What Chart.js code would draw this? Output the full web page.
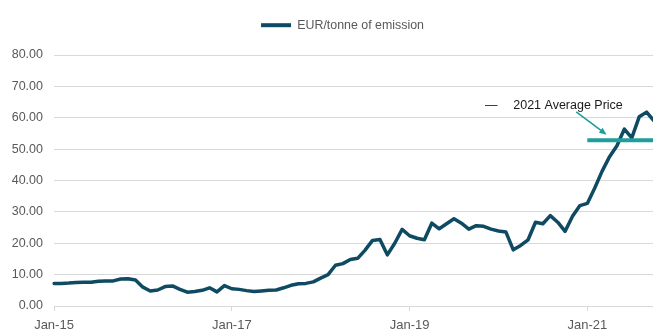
<!DOCTYPE html>
<html>
<head>
<meta charset="utf-8">
<script src="https://cdn.jsdelivr.net/npm/chart.js@4/dist/chart.umd.min.js"></script>
<style>
  html, body { margin: 0; padding: 0; background: #fff; overflow: hidden; }
  #wrap { width: 661px; height: 332px; }
</style>
</head>
<body>
<div id="wrap"><canvas id="priceChart"></canvas></div>
<script>
// monthly labels Jan-15 .. Oct-21
const monthNames = ['Jan','Feb','Mar','Apr','May','Jun','Jul','Aug','Sep','Oct','Nov','Dec'];
const years = ['15','16','17','18','19','20','21'];
const months = [];
years.forEach(y => monthNames.forEach(m => months.push(m + '-' + y)));
months.length = 82;

// EUR/tonne
const price2015 = [7.2, 7.2, 7.3, 7.5, 7.6, 7.6, 7.9, 8.0, 8.0, 8.6, 8.7, 8.3];
const price2016 = [6.0, 4.8, 5.1, 6.2, 6.4, 5.3, 4.4, 4.6, 5.0, 5.8, 4.5, 6.5];
const price2017 = [5.5, 5.3, 4.9, 4.6, 4.8, 5.0, 5.1, 5.8, 6.6, 7.1, 7.2, 7.7];
const price2018 = [8.9, 10.0, 13.0, 13.5, 14.8, 15.2, 17.8, 20.9, 21.2, 16.3, 20.0, 24.4];
const price2019 = [22.4, 21.6, 21.1, 26.4, 24.6, 26.2, 27.8, 26.4, 24.5, 25.6, 25.4, 24.5];
const price2020 = [23.9, 23.6, 17.9, 19.3, 21.1, 26.7, 26.2, 28.8, 26.7, 23.8, 28.6, 32.0];
const price2021 = [32.7, 37.6, 43.0, 47.6, 51.1, 56.4, 53.6, 60.3, 61.8, 59.0];
const prices = [].concat(price2015, price2016, price2017, price2018, price2019, price2020, price2021);

const avgPrice2021 = 52.8;
const avgStartIndex = 72; // Jan-21
const avgLine = months.map((m, i) => i >= avgStartIndex ? avgPrice2021 : null);

const yTicks = [0, 10, 20, 30, 40, 50, 60, 70, 80];

const darkBlue = '#0e4a62';
const teal = '#1f9e9b';
const grey = '#595959';
const font = "'Liberation Sans', Arial, sans-serif";

// annotation text + arrow, placed in data units
const note = { text: '2021 Average Price', dashIndex: 58.2, textIndex: 62.0, value: 64.0 };
const arrow = { fromIndex: 70.5, fromValue: 61.9, toIndex: 74.6, toValue: 54.6 };

const notePlugin = {
    id: 'note',
    beforeLayout(chart) {
        // push the plot area down below the legend
        const legend = chart.legend;
        if (legend && !legend._patched) {
            const fit = legend.fit;
            legend.fit = function () {
                fit.call(this);
                this.height = 46;
            };
            legend._patched = true;
        }
    },
    afterLayout(chart) {
        // legend sits a little right of the canvas centre
        if (chart.legend) chart.legend.left += 24;
    },
    afterDatasetsDraw(chart) {
        const ctx = chart.ctx;
        const x = chart.scales.x, y = chart.scales.y;
        ctx.save();
        ctx.fillStyle = '#1a1a1a';
        ctx.font = '12.5px ' + font;
        ctx.textBaseline = 'middle';
        ctx.textAlign = 'left';
        ctx.fillText('\u2014', x.getPixelForValue(note.dashIndex), y.getPixelForValue(note.value));
        ctx.fillText(note.text, x.getPixelForValue(note.textIndex), y.getPixelForValue(note.value));

        const x1 = x.getPixelForValue(arrow.fromIndex), y1 = y.getPixelForValue(arrow.fromValue);
        const x2 = x.getPixelForValue(arrow.toIndex), y2 = y.getPixelForValue(arrow.toValue);
        const ang = Math.atan2(y2 - y1, x2 - x1);
        ctx.strokeStyle = teal;
        ctx.fillStyle = teal;
        ctx.lineWidth = 1.6;
        ctx.beginPath();
        ctx.moveTo(x1, y1);
        ctx.lineTo(x2 - 5 * Math.cos(ang), y2 - 5 * Math.sin(ang));
        ctx.stroke();
        ctx.beginPath();
        ctx.moveTo(x2, y2);
        ctx.lineTo(x2 - 8 * Math.cos(ang - 0.4), y2 - 8 * Math.sin(ang - 0.4));
        ctx.lineTo(x2 - 8 * Math.cos(ang + 0.4), y2 - 8 * Math.sin(ang + 0.4));
        ctx.closePath();
        ctx.fill();
        ctx.restore();
    }
};

new Chart(document.getElementById('priceChart'), {
    type: 'line',
    data: {
        labels: months,
        datasets: [{
            label: 'EUR/tonne of emission',
            data: prices,
            borderColor: darkBlue,
            backgroundColor: darkBlue,
            borderWidth: 3.5,
            pointRadius: 0,
            tension: 0,
            borderJoinStyle: 'round',
            borderCapStyle: 'round',
            order: 2
        }, {
            label: '2021 Average Price',
            data: avgLine,
            borderColor: teal,
            backgroundColor: teal,
            borderWidth: 4,
            pointRadius: 0,
            spanGaps: false,
            order: 1
        }]
    },
    options: {
        responsive: true,
        maintainAspectRatio: false,
        animation: false,
        layout: { padding: { top: 9, left: 0, right: 0, bottom: 0 } },
        plugins: {
            legend: {
                position: 'top',
                labels: {
                    font: { family: font, size: 12.4 },
                    color: grey,
                    boxWidth: 30,
                    boxHeight: 4,
                    padding: 10,
                    filter: (item) => item.datasetIndex === 0,
                    generateLabels: (chart) => Chart.defaults.plugins.legend.labels.generateLabels(chart)
                        .map(l => Object.assign(l, { lineWidth: 0 }))
                }
            },
            tooltip: { enabled: false }
        },
        scales: {
            x: {
                afterFit: (scale) => { scale.height = 26; },
                grid: {
                    drawOnChartArea: false,
                    tickLength: 5,
                    color: (c) => (c.index % 24 === 0 ? '#d9d9d9' : 'rgba(0,0,0,0)')
                },
                border: { color: '#d9d9d9' },
                ticks: {
                    autoSkip: false,
                    maxRotation: 0,
                    padding: 7,
                    color: grey,
                    font: { family: font, size: 13 },
                    callback: function (value, index) {
                        return index % 24 === 0 ? months[index] : '';
                    }
                }
            },
            y: {
                min: yTicks[0],
                max: yTicks[yTicks.length - 1],
                afterFit: (scale) => { scale.width = 54; },
                grid: { color: '#d9d9d9', drawTicks: false },
                border: { display: false },
                ticks: {
                    stepSize: 10,
                    padding: 11,
                    color: grey,
                    font: { family: font, size: 12.5 },
                    callback: (v) => v.toFixed(2)
                }
            }
        }
    },
    plugins: [notePlugin]
});
</script>
</body>
</html>
